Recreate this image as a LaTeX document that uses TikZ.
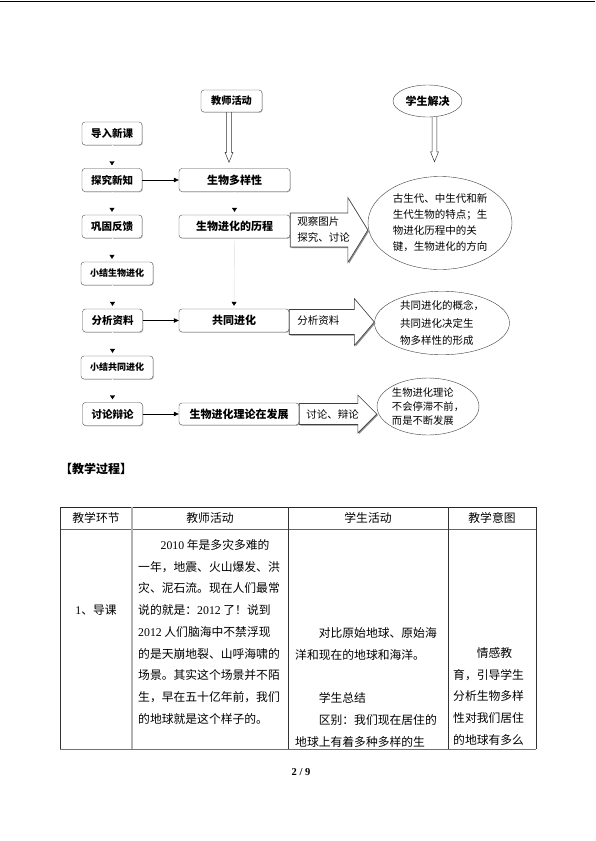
\documentclass[tikz,border=0pt]{standalone}
\usepackage{fontspec}
\setmainfont{Noto Sans CJK SC}
\newfontfamily\lat{Liberation Serif}
\usetikzlibrary{arrows.meta,positioning,calc,shapes.geometric,shadows}
\tikzset{box/.style={draw=black!70,rounded corners=3pt,fill=white,inner sep=0pt,minimum height=23pt,drop shadow={shadow xshift=0.8pt,shadow yshift=-0.8pt,fill=black!40,opacity=0.6}},
stepbox/.style={box,minimum width=60pt,font=\bfseries\fontsize{10.5}{12}\selectfont},
sumbox/.style={box,minimum width=72pt,font=\bfseries\fontsize{9}{11}\selectfont},
topicbox/.style={box,minimum width=111pt,font=\bfseries\fontsize{11}{13}\selectfont},
bubble/.style={ellipse,draw=black!75,fill=white,inner sep=0pt,align=left},
link/.style={-{Triangle[length=5pt,width=4.5pt]},line width=0.6pt},
faint/.style={draw=white,shorten >=3pt,-{Triangle[length=4pt,width=5pt,color=black]}},
trace/.style={faint,draw=black!14},
hollow/.style={draw=black!80,line width=0.5pt,to path={let \p1=(\tikztostart),\p2=(\tikztotarget) in (\x1-2.3pt,\y1) -- (\x1-2.3pt,\y2+#1+10pt) -- (\x1-4pt,\y2+#1+10pt) -- (\x1,\y2+#1) -- (\x1+4pt,\y2+#1+10pt) -- (\x1+2.3pt,\y2+#1+10pt) -- (\x1+2.3pt,\y1)}},
bigarrow/.style n args={3}{draw=black!75,fill=white,line width=0.6pt,preaction={fill=black!45,transform canvas={xshift=1.2pt,yshift=-1.2pt}},to path={let \p1=(\tikztostart),\p2=(\tikztotarget) in (\x1,\y1+#1) -- (\x2-#3,\y1+#1) -- (\x2-#3,\y1+#2) -- (\x2,\y1) -- (\x2-#3,\y1-#2) -- (\x2-#3,\y1-#1) -- (\x1,\y1-#1) -- cycle}},
arrowlbl/.style={inner sep=0pt,align=left,font=\fontsize{10.5}{16}\selectfont},
cell/.style={inner sep=0pt,align=left,font=\fontsize{11.8}{21.7}\selectfont}}

\begin{document}
\begin{tikzpicture}[x=1pt,y=-1pt]
\useasboundingbox (0,0) rectangle (595,841);
\draw[line width=1pt] (0,1) -- (595,1);
% steps of the lesson
\node[stepbox] (intro) at (112,133.5) {导入新课};
\node[stepbox] (explore) at (112,180) {探究新知};
\node[stepbox] (consol) at (112,226.5) {巩固反馈};
\node[sumbox] (sumevo) at (117,273.5) {小结生物进化};
\node[stepbox] (analyse) at (112.5,320.5) {分析资料};
\node[sumbox] (sumco) at (117,367.5) {小结共同进化};
\node[stepbox] (debate) at (112.5,414) {讨论辩论};
% teacher column
\node[stepbox,minimum width=61pt,minimum height=22pt,font=\bfseries\fontsize{10.2}{12}\selectfont] (teach) at (231.5,101) {教师活动};
\node[topicbox] (bio) at (234.5,180) {生物多样性};
\node[topicbox] (evo) at (234.5,226.5) {生物进化的历程};
\node[topicbox,minimum width=110pt] (coevo) at (234,320.5) {共同进化};
\node[topicbox,minimum width=120pt,minimum height=22pt] (theory) at (239,414) {生物进化理论在发展};
% student column
\node[bubble,minimum width=69pt,minimum height=32pt,font=\bfseries\fontsize{11}{13}\selectfont] (stud) at (427.5,101) {学生解决};
\node[bubble,minimum width=144pt,minimum height=93pt,font=\fontsize{10.5}{16}\selectfont] (e1) at (440,223) {古生代、中生代和新\\生代生物的特点；生\\物进化历程中的关\\键，生物进化的方向};
\node[bubble,minimum width=135pt,minimum height=63pt,font=\fontsize{10.5}{17.5}\selectfont] (e2) at (442,323) {共同进化的概念，\\共同进化决定生\\物多样性的形成};
\node[bubble,minimum width=92pt,minimum height=57pt,font=\fontsize{10.3}{14}\selectfont] (e3) at (428,406.5) {生物进化理论\\不会停滞不前，\\而是不断发展};
% connectors
\draw[faint] (intro.south) -- (explore.north);
\draw[faint] (explore.south) -- (consol.north);
\draw[faint] (consol.south) -- (consol.south |- sumevo.north);
\draw[faint] (sumevo.south -| analyse) -- (analyse.north);
\draw[faint] (analyse.south) -- (analyse.south |- sumco.north);
\draw[faint] (sumco.south -| debate) -- (debate.north);
\draw[faint] (bio.south) -- (evo.north);
\draw[trace] (evo.south) -- (coevo.north);
\draw[link] (explore.east) -- (bio.west);
\draw[link] (analyse.east) -- (coevo.west);
\draw[link] (debate.east) -- (theory.west);
\draw[hollow=6pt] ([xshift=-2.5pt]teach.south) to (bio.north);
\draw[hollow=14.5pt] ([xshift=7pt]stud.south) to (e1.north);
\draw[bigarrow={17pt}{32.5pt}{20pt}] ([yshift=-3.5pt]evo.east) to (e1.west);
\draw[bigarrow={12.5pt}{23.5pt}{20pt}] ([yshift=-1.5pt]coevo.east) to (e2.west);
\draw[bigarrow={10.5pt}{19pt}{19pt}] (theory.east) to (e3.west);
\node[arrowlbl,right=7pt of evo,yshift=-2.5pt] (look) {观察图片\\探究、讨论};
\node[arrowlbl,right=8pt of coevo] (data) {分析资料};
\node[arrowlbl,right=7pt of theory] (argue) {讨论、辩论};
% teaching process table
\node[anchor=west,inner sep=0pt,font=\bfseries\fontsize{12}{14}\selectfont] (title) at (60,469) {【教学过程】};
\draw[black!85,line width=0.8pt] (60,507) -- (536,507);
\draw[black!60,line width=0.6pt] (60,529) -- (536,529);
\draw[black!55,line width=0.8pt] (60,749) -- (536,749);
\draw[black!80,line width=0.7pt] (60,507) -- (60,749);
\draw[black!30,line width=1.5pt] (132,507) -- (132,749);
\draw[black!80,line width=0.6pt] (288,507) -- (288,749);
\draw[black!80,line width=0.6pt] (448,507) -- (448,749);
\draw[black!80,line width=0.7pt] (536,507) -- (536,749);
\node[cell] (h1) at (96,518) {教学环节};
\node[cell] (h2) at (210,518) {教师活动};
\node[cell] (h3) at (368,518) {学生活动};
\node[cell] (h4) at (492,518) {教学意图};
\node[cell] (stage) at (96,610) {{\lat 1}、导课};
\node[cell,anchor=north west] (tact) at (138,534.2) {\strut\hspace*{1.9em}{\lat 2010} 年是多灾多难的\\一年，地震、火山爆发、洪\\灾、泥石流。现在人们最常\\说的就是：{\lat 2012} 了！说到\\{\lat 2012} 人们脑海中不禁浮现\\的是天崩地裂、山呼海啸的\\场景。其实这个场景并不陌\\生，早在五十亿年前，我们\\的地球就是这个样子的。};
\node[cell,anchor=north west] (sact) at (295,622.2) {\strut\hspace*{2em}对比原始地球、原始海\\洋和现在的地球和海洋。\\~\\\hspace*{2em}学生总结\\\hspace*{2em}区别：我们现在居住的\\地球上有着多种多样的生};
\node[cell,anchor=north west] (aim) at (453,642.2) {\strut\hspace*{2em}情感教\\育，引导学生\\分析生物多样\\性对我们居住\\的地球有多么};
\node[font=\lat\bfseries\fontsize{10.5}{12}\selectfont] (pageno) at (301,772) {2 / 9};
\end{tikzpicture}
\end{document}
